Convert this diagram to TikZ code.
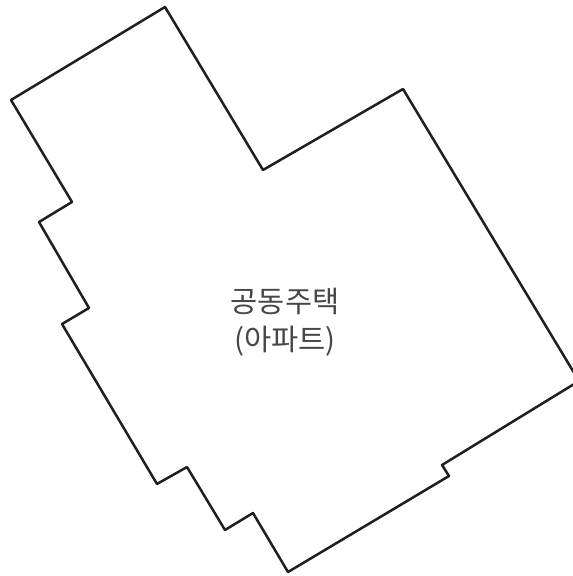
\documentclass[tikz,border=0pt]{standalone}
\usepackage{fontspec}
\newfontfamily\krfont{Noto Sans CJK KR}
\tikzset{
  outline/.style={draw=black!88, line width=2.5pt, line join=round},
  label/.style={align=center, text=black!72, inner sep=0pt, font=\krfont\fontsize{29.5}{38}\selectfont}
}
\begin{document}
\begin{tikzpicture}[x=1pt,y=-1pt]
\useasboundingbox[fill=white] (0,0) rectangle (573,576);
\begin{scope}
\clip (0,0) rectangle (573,576);
\draw[outline] (11,100) -- (165,7) -- (263,170) -- (403,89) -- (579,381) -- (442,465) -- (449,476) -- (288,572) -- (253,513) -- (225,530) -- (187,467) -- (157,484) -- (62,324) -- (89,308) -- (39,222) -- (72,202) -- cycle;
\end{scope}
\node[label] (name) at (285,322) {공동주택\\(아파트)};
\end{tikzpicture}
\end{document}
